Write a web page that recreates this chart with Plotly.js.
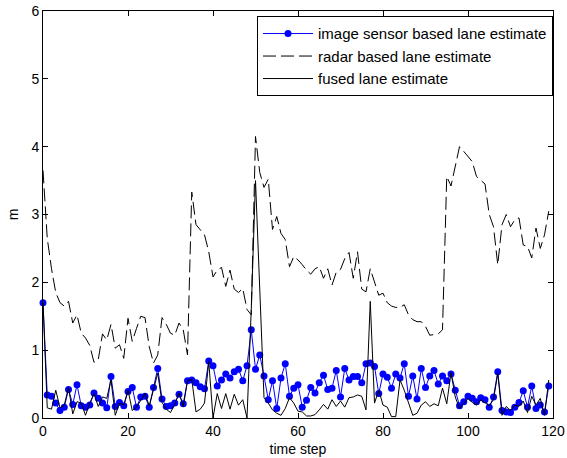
<!DOCTYPE html>
<html>
<head>
<meta charset="utf-8">
<script src="https://cdn.plot.ly/plotly-3.0.1.min.js"></script>
<style>html,body{margin:0;padding:0;background:#fff}#chart{width:567px;height:458px}</style>
</head>
<body>
<div id="chart"></div>
<script>
var timeSteps = [];
for (var i = 0; i < 120; i++) timeSteps.push(i);

var imageSensor = [1.7,0.34,0.32,0.22,0.11,0.16,0.42,0.2,0.49,0.18,
0.16,0.19,0.37,0.29,0.22,0.15,0.61,0.17,0.23,0.18,
0.39,0.45,0.16,0.31,0.32,0.16,0.45,0.73,0.28,0.17,
0.18,0.22,0.35,0.21,0.55,0.56,0.52,0.46,0.43,0.84,
0.77,0.47,0.56,0.65,0.59,0.68,0.72,0.55,0.77,1.3,
0.72,0.93,0.62,0.27,0.55,0.14,0.59,0.8,0.32,0.44,
0.49,0.16,0.26,0.45,0.37,0.52,0.63,0.42,0.44,0.7,
0.31,0.73,0.56,0.61,0.61,0.52,0.8,0.81,0.76,0.36,
0.65,0.6,0.44,0.65,0.59,0.8,0.32,0.62,0.28,0.73,
0.45,0.62,0.7,0.5,0.62,0.55,0.65,0.41,0.18,0.24,
0.32,0.29,0.24,0.3,0.27,0.16,0.31,0.68,0.11,0.09,
0.08,0.16,0.23,0.4,0.16,0.47,0.14,0.19,0.09,0.47];

var radar = [3.65,2.65,2.2,1.85,1.7,1.65,1.72,1.4,1.52,1.25,
1.18,1.07,0.82,0.86,1.24,1.15,1.38,1.03,1.08,0.88,
1.47,1.13,1.32,1.5,1.48,1.05,0.81,0.93,1.48,1.38,
1.25,1.22,1.4,1.3,0.93,3.33,2.85,2.78,2.7,2.45,
2.08,2.18,2.22,1.94,2.18,1.9,1.85,1.91,1.6,1.52,
4.15,3.62,3.4,3.52,2.78,2.97,2.72,2.63,2.23,2.38,
2.33,2.26,2.18,2.12,2.2,2.23,2.06,2.2,1.96,2.15,
2.19,2.35,2.44,2.06,2.45,1.9,1.86,2.2,2.0,1.81,
1.84,1.7,1.65,1.63,1.63,1.67,1.52,1.45,1.42,1.42,
1.35,1.22,1.23,1.24,1.3,3.56,3.42,3.73,4.0,3.93,
3.85,3.78,3.56,3.5,3.45,3.0,2.82,2.26,2.85,3.0,
2.82,2.92,2.95,2.55,2.53,2.36,2.8,2.5,2.7,3.05];

var fused = [1.7,0.15,0.13,0.41,0.15,0.19,0.45,0.06,0.24,0.22,
0.04,0.22,0.36,0.17,0.31,0.29,0.56,0.04,0.22,0.19,
0.41,0.11,0.16,0.27,0.36,0.18,0.41,0.66,0.23,0.13,
0.08,0.2,0.37,0.17,0.55,0.57,0.09,0.13,0.22,0.83,
0.0,0.36,0.14,0.36,0.13,0.35,0.19,0.27,0.0,1.6,
3.5,1.9,0.3,0.22,0.12,0.07,0.04,0.14,0.3,0.22,
0.1,0.09,0.03,0.03,0.05,0.12,0.2,0.13,0.27,0.17,
0.25,0.16,0.3,0.31,0.34,0.32,0.12,1.72,0.22,0.41,
0.19,0.16,0.02,0.02,0.56,0.41,0.22,0.04,0.07,0.19,
0.24,0.17,0.21,0.18,0.44,0.21,0.67,0.31,0.14,0.22,
0.29,0.23,0.19,0.27,0.22,0.18,0.27,0.66,0.04,0.17,
0.11,0.19,0.17,0.25,0.08,0.32,0.19,0.29,0.04,0.56];

var seriesNames = ['image sensor based lane estimate','radar based lane estimate','fused lane estimate'];
var xTicks = [0,20,40,60,80,100,120];
var yTicks = [0,1,2,3,4,5,6];

var font = {family: 'Liberation Sans, Arial, sans-serif', size: 14, color: '#000'};
var legendFont = {family: 'Liberation Sans, Arial, sans-serif', size: 15, color: '#000'};

var traces = [
  {x: timeSteps, y: imageSensor, name: seriesNames[0], type: 'scatter', mode: 'lines+markers',
   line: {color: 'rgb(0,0,255)', width: 1}, marker: {color: 'rgb(0,0,255)', size: 7}, cliponaxis: false},
  {x: timeSteps, y: radar, name: seriesNames[1], type: 'scatter', mode: 'lines',
   line: {color: '#000', width: 1, dash: '13px,5px'}},
  {x: timeSteps, y: fused, name: seriesNames[2], type: 'scatter', mode: 'lines',
   line: {color: '#000', width: 1}}
];

var axisCommon = {
  showgrid: false, zeroline: false, showline: true, linecolor: '#000', linewidth: 1,
  mirror: 'allticks', ticks: 'inside', ticklen: 5, tickcolor: '#000', tickwidth: 1,
  tickfont: font, ticklabeloverflow: 'allow'
};

var layout = {
  width: 567, height: 458,
  margin: {l: 43, r: 14, t: 11, b: 40},
  paper_bgcolor: '#fff', plot_bgcolor: '#fff',
  font: font,
  showlegend: true,
  legend: {x: 1, xanchor: 'right', y: 0.987, yanchor: 'top', bordercolor: '#000', borderwidth: 1,
           bgcolor: '#fff', font: legendFont, itemwidth: 50, tracegroupgap: 0},
  xaxis: Object.assign({}, axisCommon, {range: [0, 120], tickvals: xTicks, ticktext: xTicks.map(String),
    title: {text: 'time step', font: font, standoff: 6}}),
  yaxis: Object.assign({}, axisCommon, {range: [0, 6], tickvals: yTicks, ticktext: yTicks.map(String),
    title: {text: 'm', font: font, standoff: 9}})
};

Plotly.newPlot('chart', traces, layout, {staticPlot: true, displayModeBar: false});
</script>
</body>
</html>
